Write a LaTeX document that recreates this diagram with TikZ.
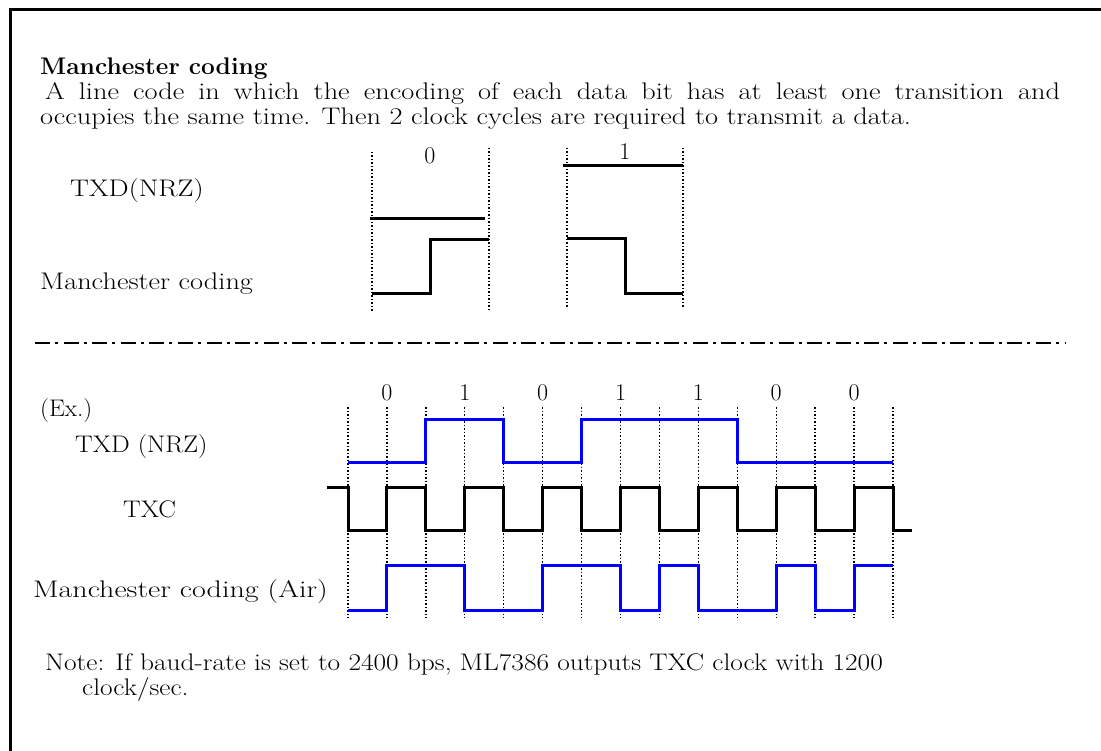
\documentclass[tikz,border=0pt]{standalone}
\newcommand{\wide}[2][1.18]{\scalebox{#1}[1]{#2}}
\begin{document}
\begin{tikzpicture}[x=1pt,y=-1pt,
  txt/.style={anchor=base west,inner sep=0pt,font=\fontsize{24}{25}\selectfont},
  bit/.style={anchor=base,inner sep=0pt,font=\fontsize{24}{25}\selectfont},
  guide/.style={line width=1.4pt,dash pattern=on 1.5pt off 2pt},
  blk/.style={line width=3pt,black},
  blu/.style={line width=3pt,blue},
  frame/.style={line width=3pt},
  dashdot/.style={line width=2pt,dash pattern=on 15pt off 5pt on 3pt off 5.6pt}]
\useasboundingbox (0,0) rectangle (1101,751);
% frame
\draw[frame] (10,751) -- (10,10) -- (1101,10);
% texts
\node[txt,font=\fontsize{24}{25}\selectfont\bfseries] (title) at (40,75) {\wide[1.02]{Manchester coding}};
\node[txt] (l1) at (45,100) {\wide{\makebox[860pt][s]{A line code in which the encoding of each data bit has at least one transition and}}};
\node[txt] (l2) at (40,125) {\wide{occupies the same time. Then 2 clock cycles are required to transmit a data.}};
\node[txt] (lnrz) at (70,197) {\wide{TXD(NRZ)}};
\node[txt] (lman) at (40,290) {\wide{Manchester coding}};
\node[txt] (lex) at (40,417) {\wide[1.05]{(Ex.)}};
\node[txt] (ltxd) at (75,452) {\wide[1.1]{TXD (NRZ)}};
\node[txt] (ltxc) at (123,517) {\wide[1.1]{TXC}};
\node[txt] (lair) at (33,597) {\wide[1.25]{Manchester coding (Air)}};
\node[txt] (n1) at (45,670) {\wide[1.14]{Note: If baud-rate is set to 2400 bps, ML7386 outputs TXC clock with 1200}};
\node[txt] (n2) at (82,695) {\wide[1.14]{clock/sec.}};
% top example
\node[bit] (b0) at (430,164) {0};
\node[bit] (b1) at (625,160) {1};
\draw[guide] (372,152) -- (372,312);
\draw[guide] (489,148) -- (489,312);
\draw[guide] (567,148) -- (567,308);
\draw[guide] (683,148) -- (683,308);
\draw[blk] (370,219) -- (485,219);
\draw[blk] (563,166) -- (683,166);
\draw[blk,line join=miter] (372,294) -- (430,294) -- (430,240) -- (489,240);
\draw[blk,line join=miter] (567,239) -- (625,239) -- (625,294) -- (683,294);
% separator
\draw[dashdot] (35,343) -- (1065,343);
% bottom example
\foreach \k in {0,...,14} {
  \draw[guide] ({348+38.93*\k},407) -- ({348+38.93*\k},618);
}
\foreach \k/\b in {1/0,3/1,5/0,7/1,9/1,11/0,13/0} {
  \node[bit] (e\k) at ({348+38.93*\k},400) {\b};
}
\def\X#1{{348+38.93*#1}}
\draw[blu,line join=miter] (\X{0},462) -- (\X{2},462) -- (\X{2},419) -- (\X{4},419) -- (\X{4},462) -- (\X{6},462) -- (\X{6},419) -- (\X{10},419) -- (\X{10},462) -- (\X{14},462);
\draw[blk,line join=miter] (327,487) -- (\X{0},487) -- (\X{0},530) -- (\X{1},530) -- (\X{1},487) -- (\X{2},487) -- (\X{2},530) -- (\X{3},530) -- (\X{3},487) -- (\X{4},487) -- (\X{4},530) -- (\X{5},530) -- (\X{5},487) -- (\X{6},487) -- (\X{6},530) -- (\X{7},530) -- (\X{7},487) -- (\X{8},487) -- (\X{8},530) -- (\X{9},530) -- (\X{9},487) -- (\X{10},487) -- (\X{10},530) -- (\X{11},530) -- (\X{11},487) -- (\X{12},487) -- (\X{12},530) -- (\X{13},530) -- (\X{13},487) -- (\X{14},487) -- (\X{14},530) -- (912,530);
\draw[blu,line join=miter] (\X{0},610) -- (\X{1},610) -- (\X{1},565) -- (\X{3},565) -- (\X{3},610) -- (\X{5},610) -- (\X{5},565) -- (\X{7},565) -- (\X{7},610) -- (\X{8},610) -- (\X{8},565) -- (\X{9},565) -- (\X{9},610) -- (\X{11},610) -- (\X{11},565) -- (\X{12},565) -- (\X{12},610) -- (\X{13},610) -- (\X{13},565) -- (\X{14},565);
\end{tikzpicture}
\end{document}
